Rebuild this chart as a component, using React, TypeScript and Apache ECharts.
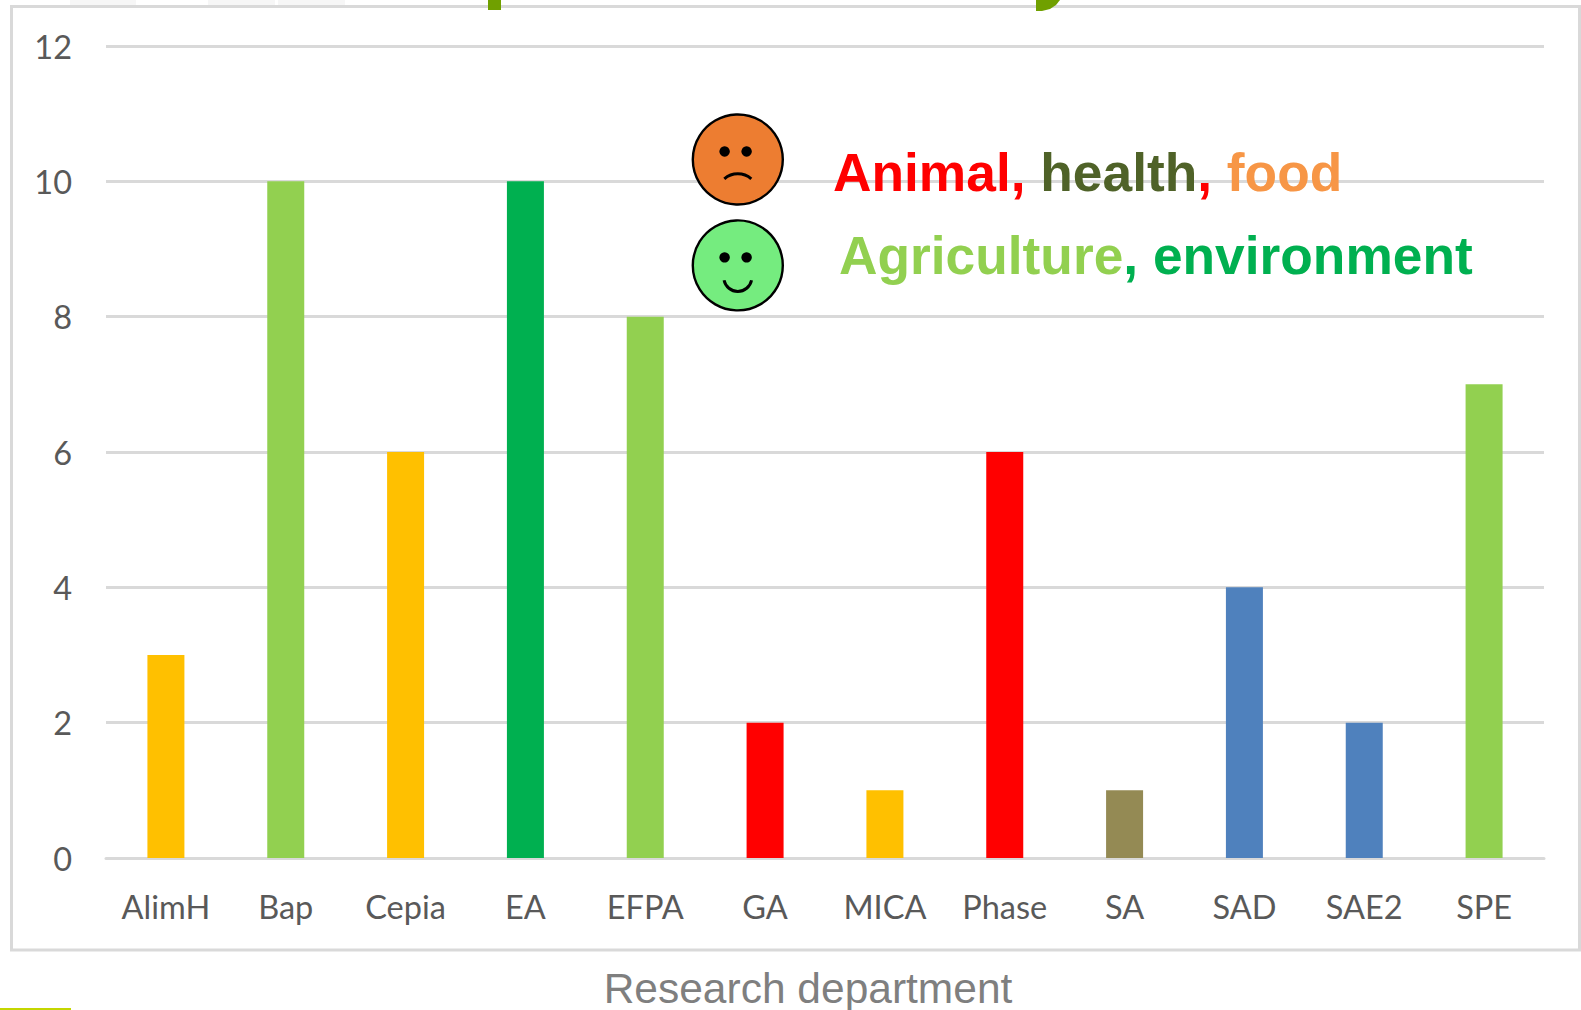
import React, { useEffect, useRef } from "react";
import * as echarts from "echarts";

const categories = ["AlimH", "Bap", "Cepia", "EA", "EFPA", "GA", "MICA", "Phase", "SA", "SAD", "SAE2", "SPE"];
const values = [3, 10, 6, 10, 8, 2, 1, 6, 1, 4, 2, 7];
const barColors = ["#FFC000", "#92D050", "#FFC000", "#00B050", "#92D050", "#FF0000", "#FFC000", "#FF0000", "#948A54", "#4F81BD", "#4F81BD", "#92D050"];
const xAxisName = "Research department";

function face(cx: number, cy: number, fill: string, smile: boolean): any[] {
  const mouth = smile
    ? { type: "arc", z: 10, shape: { cx, cy: cy + 12, r: 14, startAngle: 0.2, endAngle: Math.PI - 0.2 }, style: { stroke: "#000", lineWidth: 3, fill: "none" } }
    : { type: "arc", z: 10, shape: { cx, cy: cy + 35, r: 20.7, startAngle: 1.5 * Math.PI - 0.71, endAngle: 1.5 * Math.PI + 0.71 }, style: { stroke: "#000", lineWidth: 3, fill: "none" } };
  return [
    { type: "circle", z: 10, shape: { cx, cy, r: 45 }, style: { fill, stroke: "#000", lineWidth: 2.4 } },
    { type: "circle", z: 10, shape: { cx: cx - 13.2, cy: cy - 8, r: 5.2 }, style: { fill: "#000" } },
    { type: "circle", z: 10, shape: { cx: cx + 8.8, cy: cy - 8, r: 5.2 }, style: { fill: "#000" } },
    mouth,
  ];
}

const bold = { fontSize: 53.3, fontWeight: "bold", fontFamily: "'Liberation Sans'" };

export default function App() {
  const ref = useRef<HTMLDivElement>(null);
  useEffect(() => {
    const chart = echarts.init(ref.current!, undefined, { renderer: "svg" });
    const axisFont = "Lato, sans-serif";
    chart.setOption({
      animation: false,
      backgroundColor: "#fff",
      grid: { left: 106, right: 37, top: 46, bottom: 152 },
      xAxis: {
        type: "category",
        data: categories,
        axisTick: { show: false },
        axisLine: { lineStyle: { color: "#D9D9D9", width: 3 } },
        axisLabel: { color: "#595959", fontFamily: axisFont, fontSize: 32.5, margin: 32, interval: 0 },
      },
      yAxis: {
        type: "value",
        min: 0,
        max: 12,
        interval: 2,
        axisLine: { show: false },
        axisTick: { show: false },
        splitLine: { lineStyle: { color: "#D9D9D9", width: 3 } },
        axisLabel: { color: "#595959", fontFamily: axisFont, fontSize: 32.5, margin: 34, padding: [0, 0, 2, 0] },
      },
      series: [
        {
          type: "bar",
          barWidth: 37,
          data: values.map((v, i) => ({ value: v, itemStyle: { color: barColors[i] } })),
        },
      ],
      graphic: [
        { type: "rect", shape: { x: 70, y: 0, width: 66, height: 5 }, style: { fill: "#F6F6F6" } },
        { type: "rect", shape: { x: 208, y: 0, width: 67, height: 5 }, style: { fill: "#F6F6F6" } },
        { type: "rect", shape: { x: 278, y: 0, width: 67, height: 5 }, style: { fill: "#F6F6F6" } },
        { type: "rect", shape: { x: 11.5, y: 6.5, width: 1568, height: 943.5 }, style: { fill: "none", stroke: "#D9D9D9", lineWidth: 3 } },
        { type: "rect", z: 5, shape: { x: 488, y: 0, width: 13, height: 10 }, style: { fill: "#70A000" } },
        { type: "polygon", z: 5, shape: { points: [[1036, 0], [1060, 0], [1056, 5], [1050, 9], [1042, 11], [1036, 11]] }, style: { fill: "#70A000" } },
        { type: "rect", shape: { x: 0, y: 1008, width: 71, height: 2 }, style: { fill: "#C4D600" } },
        ...face(737.8, 159.5, "#ED7D31", false),
        ...face(737.8, 265.4, "#75EC7F", true),
        {
          type: "text", x: 833, y: 199, z: 10,
          style: {
            text: "{a|Animal,} {b|health}{a|,} {c|food}",
            verticalAlign: "bottom", ...bold,
            rich: {
              a: { fill: "#FF0000", ...bold },
              b: { fill: "#4F6228", ...bold },
              c: { fill: "#F79646", ...bold },
            },
          },
        },
        {
          type: "text", x: 839, y: 282, z: 10,
          style: {
            text: "{a|Agriculture}{b|, environment}",
            verticalAlign: "bottom", ...bold,
            rich: {
              a: { fill: "#92D050", ...bold },
              b: { fill: "#00B050", ...bold },
            },
          },
        },
        { type: "text", x: 808, y: 988, style: { text: xAxisName, fill: "#7F7F7F", fontSize: 42.5, fontFamily: "'Liberation Sans'", align: "center", verticalAlign: "middle" } },
      ],
    });
    return () => chart.dispose();
  }, []);
  return <div ref={ref} style={{ position: "fixed", left: 0, top: 0, width: 1581, height: 1010 }} />;
}
